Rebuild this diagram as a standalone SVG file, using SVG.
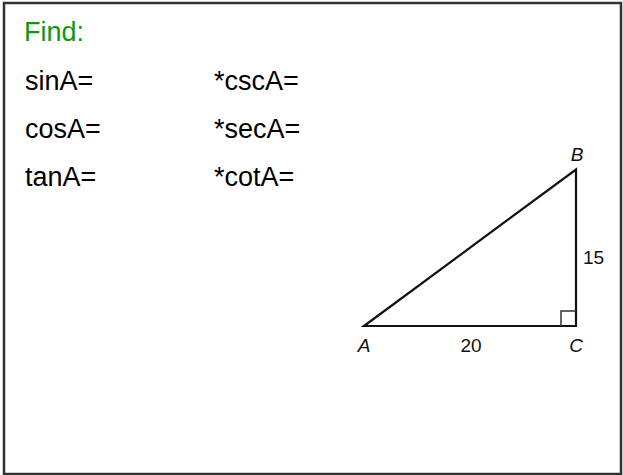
<svg xmlns="http://www.w3.org/2000/svg" width="623" height="475" viewBox="0 0 623 475">
<style>
.t{font-family:"Liberation Sans",Arial,sans-serif;font-size:27px;fill:#000}
.g{fill:#0c990c}
.l{font-family:"Liberation Sans",Arial,sans-serif;font-size:19px;fill:#111}
.i{font-style:italic}
.edge{fill:none;stroke:#111;stroke-width:2.2;stroke-linejoin:miter}
</style>
<rect x="0" y="0" width="623" height="475" fill="#fff"/>
<rect x="4" y="3" width="617" height="471" fill="none" stroke="#333" stroke-width="2.5"/>
<g id="texts">
<text class="t g" x="24" y="41">Find:</text>
<text class="t" x="25" y="90">sinA=</text>
<text class="t" x="25" y="138">cosA=</text>
<text class="t" x="25" y="186">tanA=</text>
<text class="t" x="214" y="90">*cscA=</text>
<text class="t" x="214" y="138">*secA=</text>
<text class="t" x="214" y="186">*cotA=</text>
</g>
<g id="triangle">
<polygon class="edge" points="364,326 576,169.5 576,326"/>
<polyline fill="none" stroke="#333" stroke-width="1.5" points="561,326 561,311 576,311"/>
</g>
<g id="labels">
<text class="l i" x="364" y="352" text-anchor="middle">A</text>
<text class="l i" x="577" y="161" text-anchor="middle">B</text>
<text class="l i" x="576" y="352" text-anchor="middle">C</text>
<text class="l" x="471" y="352" text-anchor="middle">20</text>
<text class="l" x="583" y="264">15</text>
</g>
</svg>
